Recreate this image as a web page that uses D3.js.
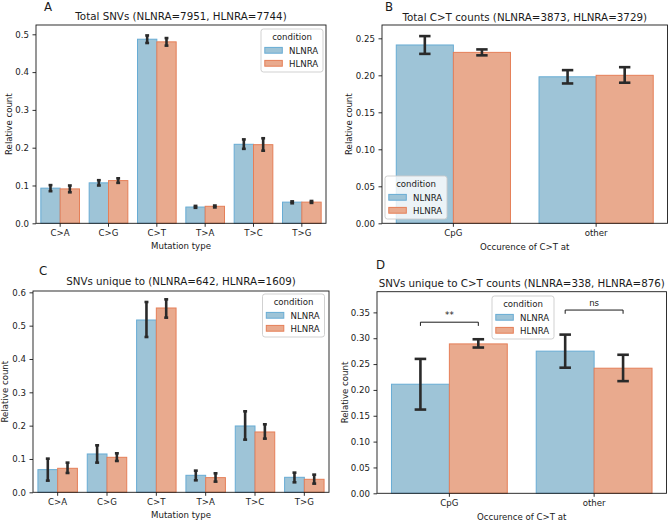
<!DOCTYPE html>
<html><head><meta charset="utf-8">
<script src="https://cdn.jsdelivr.net/npm/d3@7"></script>
<style>
html,body{margin:0;padding:0;background:#fff;}
svg text{font-family:"DejaVu Sans",sans-serif;fill:#1a1a1a;}
</style></head>
<body>
<script>
// ---------------- DATA ----------------
const conditions = ["NLNRA", "HLNRA"];
const mutationTypes = ["C>A", "C>G", "C>T", "T>A", "T>C", "T>G"];
const ctContexts = ["CpG", "other"];

// Panel A: Total SNVs
const totalNL = [0.093, 0.107, 0.487, 0.043, 0.209, 0.056];
const totalNLci = [[0.085,0.101],[0.100,0.114],[0.477,0.497],[0.041,0.046],[0.197,0.222],[0.053,0.058]];
const totalHL = [0.091, 0.113, 0.480, 0.045, 0.208, 0.056];
const totalHLci = [[0.082,0.100],[0.107,0.119],[0.470,0.490],[0.042,0.047],[0.192,0.225],[0.054,0.059]];

// Panel B: Total C>T counts
const ctNL = [0.241, 0.198];
const ctNLci = [[0.229,0.253],[0.189,0.207]];
const ctHL = [0.231, 0.200];
const ctHLci = [[0.227,0.235],[0.190,0.211]];

// Panel C: SNVs unique to
const uniqNL = [0.068, 0.115, 0.517, 0.051, 0.199, 0.045];
const uniqNLci = [[0.035,0.101],[0.089,0.141],[0.466,0.571],[0.036,0.065],[0.158,0.243],[0.030,0.059]];
const uniqHL = [0.072, 0.105, 0.553, 0.044, 0.181, 0.039];
const uniqHLci = [[0.058,0.089],[0.094,0.117],[0.524,0.579],[0.032,0.057],[0.161,0.204],[0.026,0.053]];

// Panel D: SNVs unique to C>T counts
const uniqCtNL = [0.211, 0.275];
const uniqCtNLci = [[0.162,0.260],[0.243,0.307]];
const uniqCtHL = [0.289, 0.242];
const uniqCtHLci = [[0.282,0.298],[0.217,0.268]];
const sigLabels = ["**", "ns"];
const sigLevels = [0.331, 0.3545];

// Tick values
const ticksA = [0, 0.1, 0.2, 0.3, 0.4, 0.5];
const ticksB = [0, 0.05, 0.10, 0.15, 0.20, 0.25];
const ticksC = [0, 0.1, 0.2, 0.3, 0.4, 0.5, 0.6];
const ticksD = [0, 0.05, 0.10, 0.15, 0.20, 0.25, 0.30, 0.35];

const titles = ["Total SNVs (NLNRA=7951, HLNRA=7744)",
                "Total C>T counts (NLNRA=3873, HLNRA=3729)",
                "SNVs unique to (NLNRA=642, HLNRA=1609)",
                "SNVs unique to C>T counts (NLNRA=338, HLNRA=876)"];
const xLabels = ["Mutation type", "Occurence of C>T at", "Mutation type", "Occurence of C>T at"];
const yLabel = "Relative count";
const panelLetters = ["A", "B", "C", "D"];

// ---------------- STYLE ----------------
const fills = {NLNRA: "#9ec4d7", HLNRA: "#e9aa8e"};
const edges = {NLNRA: "#68acd4", HLNRA: "#e57f58"};
const errColor = "#2a2a2a";

const W = 669, H = 521;
const svg = d3.select("body").append("svg").attr("width", W).attr("height", H);
svg.append("rect").attr("width", W).attr("height", H).attr("fill", "#fff");

function drawPanel(cfg) {
  const g = svg.append("g");
  const x = d3.scaleBand().domain(cfg.cats).range([cfg.x0, cfg.x1]).padding(0);
  const bw = x.bandwidth();
  const sub = d3.scaleBand().domain(conditions).range([0.1 * bw, 0.9 * bw]).padding(0);
  const y = d3.scaleLinear().domain([0, cfg.ymax]).range([cfg.y1, cfg.y0]);

  const rows = [];
  cfg.cats.forEach((c, i) => {
    rows.push({cat: c, cond: "NLNRA", v: cfg.nl[i], ci: cfg.nlci[i]});
    rows.push({cat: c, cond: "HLNRA", v: cfg.hl[i], ci: cfg.hlci[i]});
  });

  // bars
  g.selectAll("rect.bar").data(rows).join("rect")
    .attr("x", d => x(d.cat) + sub(d.cond))
    .attr("width", sub.bandwidth())
    .attr("y", d => y(d.v))
    .attr("height", d => y(0) - y(d.v))
    .attr("fill", d => fills[d.cond])
    .attr("stroke", d => edges[d.cond])
    .attr("stroke-width", 1);

  // error bars
  const cap = 0.08 * bw / 2;
  const eg = g.selectAll("g.err").data(rows).join("g")
    .attr("stroke", errColor).attr("stroke-width", 2.6).attr("fill", "none");
  eg.append("line")
    .attr("x1", d => x(d.cat) + sub(d.cond) + sub.bandwidth() / 2)
    .attr("x2", d => x(d.cat) + sub(d.cond) + sub.bandwidth() / 2)
    .attr("y1", d => y(d.ci[0])).attr("y2", d => y(d.ci[1]));
  ["0", "1"].forEach(k => {
    eg.append("line")
      .attr("x1", d => x(d.cat) + sub(d.cond) + sub.bandwidth() / 2 - cap)
      .attr("x2", d => x(d.cat) + sub(d.cond) + sub.bandwidth() / 2 + cap)
      .attr("y1", d => y(d.ci[+k])).attr("y2", d => y(d.ci[+k]));
  });

  // axes
  const ax = g.append("g").attr("transform", `translate(${cfg.x0},0)`)
    .call(d3.axisLeft(y).tickValues(cfg.ticks).tickFormat(d3.format(cfg.fmt)).tickSize(3.5).tickPadding(3.5));
  const bx = g.append("g").attr("transform", `translate(0,${cfg.y1})`)
    .call(d3.axisBottom(x).tickSize(3.5).tickPadding(3.5));
  [ax, bx].forEach(a => {
    a.select(".domain").remove();
    a.selectAll("line").attr("stroke", "#1a1a1a").attr("stroke-width", 0.9);
    a.selectAll("text").attr("font-size", "8.6px").attr("font-family", "DejaVu Sans").attr("fill", "#1a1a1a");
  });
  // frame
  g.append("rect").attr("x", cfg.x0).attr("y", cfg.y0)
    .attr("width", cfg.x1 - cfg.x0).attr("height", cfg.y1 - cfg.y0)
    .attr("fill", "none").attr("stroke", "#1a1a1a").attr("stroke-width", 0.9);

  // title
  g.append("text").attr("x", (cfg.x0 + cfg.x1) / 2).attr("y", cfg.titleY)
    .attr("text-anchor", "middle").attr("font-size", "10.3px").text(cfg.title);
  // panel letter
  g.append("text").attr("x", cfg.letterX).attr("y", cfg.letterY)
    .attr("font-size", "11.8px").text(cfg.letter);
  // x label
  g.append("text").attr("x", (cfg.x0 + cfg.x1) / 2).attr("y", cfg.xlabY)
    .attr("text-anchor", "middle").attr("font-size", "8.6px").text(cfg.xlabel);
  // y label
  g.append("text").attr("transform", `translate(${cfg.ylabX},${(cfg.y0 + cfg.y1) / 2}) rotate(-90)`)
    .attr("text-anchor", "middle").attr("font-size", "8.6px").text(yLabel);

  // legend
  const L = cfg.legend;
  const lg = g.append("g").attr("transform", `translate(${L.x},${L.y})`);
  lg.append("rect").attr("width", 62).attr("height", 43).attr("rx", 2.5)
    .attr("fill", "#fff").attr("fill-opacity", 0.8).attr("stroke", "#cccccc").attr("stroke-width", 0.9);
  lg.append("text").attr("x", 31).attr("y", 10.5).attr("text-anchor", "middle")
    .attr("font-size", "8.6px").text("condition");
  conditions.forEach((c, i) => {
    lg.append("rect").attr("x", 3.8).attr("y", 18.4 + i * 13).attr("width", 17.5).attr("height", 5.8)
      .attr("fill", fills[c]).attr("stroke", edges[c]).attr("stroke-width", 1);
    lg.append("text").attr("x", 28).attr("y", 24.6 + i * 13).attr("font-size", "8.6px").text(c);
  });

  return {x, y, sub, g};
}

// Panel A
drawPanel({cats: mutationTypes, nl: totalNL, nlci: totalNLci, hl: totalHL, hlci: totalHLci,
  x0: 36, x1: 326, y0: 25, y1: 223.3, ymax: 0.5246, ticks: ticksA, fmt: ".1f",
  title: titles[0], titleY: 20, letter: panelLetters[0], letterX: 44, letterY: 11,
  xlabel: xLabels[0], xlabY: 248.5, ylabX: 11.5, legend: {x: 261, y: 29}});

// Panel B
drawPanel({cats: ctContexts, nl: ctNL, nlci: ctNLci, hl: ctHL, hlci: ctHLci,
  x0: 382, x1: 667.5, y0: 25, y1: 223.3, ymax: 0.268, ticks: ticksB, fmt: ".2f",
  title: titles[1], titleY: 20.5, letter: panelLetters[1], letterX: 385, letterY: 10.5,
  xlabel: xLabels[1], xlabY: 249.5, ylabX: 351.5, legend: {x: 385, y: 176}});

// Panel C
drawPanel({cats: mutationTypes, nl: uniqNL, nlci: uniqNLci, hl: uniqHL, hlci: uniqHLci,
  x0: 33, x1: 329, y0: 291, y1: 492.3, ymax: 0.604, ticks: ticksC, fmt: ".1f",
  title: titles[2], titleY: 285, letter: panelLetters[2], letterX: 39, letterY: 275,
  xlabel: xLabels[2], xlabY: 517.5, ylabX: 7.5, legend: {x: 262.5, y: 294}});

// Panel D
const pD = drawPanel({cats: ctContexts, nl: uniqCtNL, nlci: uniqCtNLci, hl: uniqCtHL, hlci: uniqCtHLci,
  x0: 377, x1: 666.5, y0: 291.7, y1: 493.3, ymax: 0.39, ticks: ticksD, fmt: ".2f",
  title: titles[3], titleY: 286.7, letter: panelLetters[3], letterX: 376, letterY: 268.5,
  xlabel: xLabels[3], xlabY: 519.5, ylabX: 348, legend: {x: 492, y: 296}});

// significance brackets in D
ctContexts.forEach((c, i) => {
  const xc = pD.x(c) + pD.x.bandwidth() / 2;
  const half = 0.2 * pD.x.bandwidth();
  const yb = pD.y(sigLevels[i]);
  pD.g.append("path")
    .attr("d", `M${xc - half},${yb + 3.7}V${yb}H${xc + half}V${yb + 3.7}`)
    .attr("fill", "none").attr("stroke", "#1a1a1a").attr("stroke-width", 1);
  pD.g.append("text").attr("x", xc).attr("y", yb - 4.5).attr("text-anchor", "middle")
    .attr("font-size", "8.6px").text(sigLabels[i]);
});
</script>
</body></html>
